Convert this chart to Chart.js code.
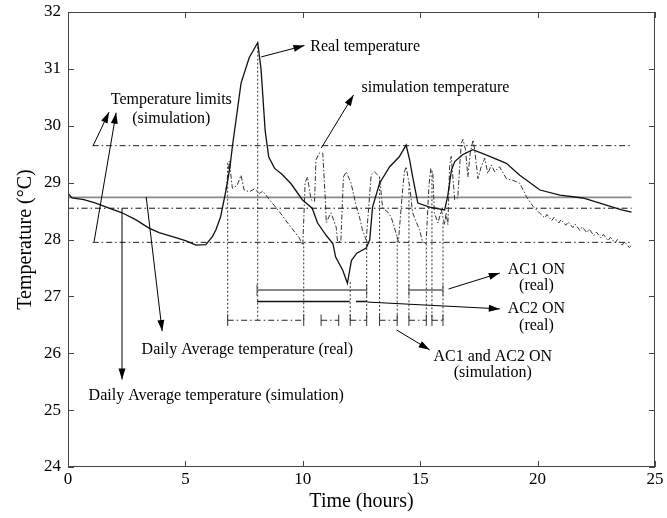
<!DOCTYPE html>
<html>
<head>
<meta charset="utf-8">
<script src="https://cdn.jsdelivr.net/npm/chart.js@4.4.1/dist/chart.umd.min.js"></script>
<style>
  body { margin: 0; background: #fff; }
  #wrap { width: 667px; height: 518px; }
</style>
</head>
<body>
<div id="wrap"><canvas id="chart"></canvas></div>
<script>
// measured temperature (hours, degrees C)
const realTime = [0, 0.17, 0.68, 1.18, 1.75, 2.3, 2.88, 3.45, 3.88, 4.45,
    5.0, 5.45, 5.87, 6.15, 6.3, 6.5, 6.73, 6.9, 7.0, 7.37,
    7.72, 8.08, 8.22, 8.4, 8.55, 8.8, 9.1, 9.5, 9.98, 10.4,
    10.63, 11.0, 11.28, 11.4, 11.7, 11.9, 12.07, 12.3, 12.7, 12.85,
    12.97, 13.27, 13.7, 14.1, 14.4, 14.55, 14.68, 14.9, 15.4, 16.04,
    16.17, 16.33, 16.47, 16.8, 17.24, 17.96, 18.67, 19.24, 20.1, 20.95,
    21.93, 22.65, 23.2, 23.58, 24];
const realTemp = [28.81, 28.73, 28.7, 28.64, 28.55, 28.47, 28.35, 28.2, 28.12, 28.05,
    27.98, 27.9, 27.91, 28.05, 28.17, 28.4, 28.87, 29.28, 29.63, 30.75,
    31.2, 31.46, 31.0, 29.9, 29.45, 29.25, 29.15, 28.98, 28.7, 28.55,
    28.29, 28.07, 27.93, 27.69, 27.46, 27.23, 27.63, 27.76, 27.85, 27.99,
    28.57, 28.99, 29.28, 29.45, 29.66, 29.4, 29.1, 28.64, 28.57, 28.52,
    28.76, 29.22, 29.37, 29.49, 29.58, 29.46, 29.34, 29.13, 28.87, 28.78,
    28.73, 28.64, 28.57, 28.52, 28.48];

// simulated temperature, branches off the real curve when the AC starts
const simTime = [6.73, 6.87, 7.0, 7.2, 7.37, 7.5, 7.72, 7.94, 8.15, 8.3,
    8.58, 9.0, 9.43, 9.85, 10.0, 10.1, 10.2, 10.35, 10.5, 10.56,
    10.7, 10.85, 10.96, 11.0, 11.2, 11.42, 11.48, 11.62, 11.73, 11.85,
    12.05, 12.28, 12.41, 12.54, 12.7, 12.91, 13.05, 13.27, 13.4, 13.6,
    13.76, 13.98, 14.07, 14.25, 14.33, 14.4, 14.55, 14.68, 14.83, 14.97,
    15.1, 15.25, 15.37, 15.45, 15.54, 15.6, 15.76, 15.9, 16.04, 16.1,
    16.18, 16.25, 16.32, 16.47, 16.6, 16.68, 16.75, 16.82, 16.93, 17.03,
    17.13, 17.25, 17.32, 17.46, 17.6, 17.75, 17.88, 18.03, 18.17, 18.38,
    18.67, 18.95, 19.24, 19.53, 19.81, 20.1, 20.3, 20.4, 20.6, 20.7,
    20.9, 21.0, 21.2, 21.3, 21.5, 21.6, 21.8, 21.9, 22.1, 22.2,
    22.4, 22.5, 22.7, 22.8, 23.0, 23.1, 23.3, 23.4, 23.6, 23.7,
    23.9, 24.0];
const simTemp = [28.87, 29.38, 28.9, 28.95, 29.13, 28.87, 28.84, 28.89, 28.81, 28.85,
    28.7, 28.49, 28.25, 28.03, 27.9, 29.0, 29.1, 28.7, 28.67, 29.4,
    29.52, 29.52, 28.7, 28.3, 28.47, 28.22, 27.96, 27.96, 29.1, 29.19,
    29.0, 28.58, 28.4, 28.17, 27.99, 29.13, 29.19, 29.1, 28.55, 28.49,
    28.4, 28.1, 27.96, 28.87, 29.19, 29.28, 28.93, 28.47, 28.31, 28.17,
    27.96, 27.93, 28.93, 29.25, 29.16, 28.47, 28.29, 28.52, 28.26, 28.47,
    28.26, 29.28, 29.46, 28.7, 28.73, 29.28, 29.69, 29.76, 29.58, 29.1,
    29.52, 29.75, 29.58, 29.07, 29.28, 29.43, 29.16, 29.31, 29.19, 29.28,
    29.07, 29.04, 28.99, 28.75, 28.58, 28.46, 28.38, 28.44, 28.33, 28.39,
    28.29, 28.35, 28.25, 28.31, 28.21, 28.27, 28.16, 28.22, 28.12, 28.18,
    28.07, 28.13, 28.03, 28.09, 27.98, 28.04, 27.94, 28.0, 27.9, 27.96,
    27.86, 27.9];

// horizontal reference levels
const avgReal = 28.74;
const avgSim = 28.55;
const limitHigh = 29.65;
const limitLow = 27.95;
const limitStart = 1.05;
const dayEnd = 24;

// AC switching times
const ac1On = [8.05, 14.52];
const ac1Off = [12.72, 15.97];
const ac1Level = 27.11;
const ac2On = [8.05, 12.27];
const ac2Off = [12.0, 12.76];
const ac2Level = 26.91;
const simOn = [6.8, 10.78, 12.02, 13.27, 14.52, 15.5];
const simOff = [10.04, 11.53, 12.72, 14.02, 15.26, 15.97];
const simLevel = 26.58;
const endTick = 0.1;

// dotted drop lines from the curves to the bars
const cutTimes = [6.8, 8.08, 10.04, 12.02, 12.72, 13.27, 14.02, 14.52, 15.26, 15.5, 15.97];
const cutTops = [29.35, 31.46, 27.95, 27.25, 27.99, 29.1, 28.05, 28.9, 27.93, 29.2, 28.3];

// annotations (text in data units)
const noteText = ['Real temperature', 'simulation temperature', 'Temperature limits', '(simulation)',
    'Daily Average temperature (real)', 'Daily Average temperature (simulation)',
    'AC1 ON', '(real)', 'AC2 ON', '(real)', 'AC1 and AC2 ON', '(simulation)'];
const noteX = [10.32, 12.5, 4.4, 4.4, 7.64, 6.31, 19.95, 19.95, 19.95, 19.95, 18.09, 18.09];
const noteY = [31.39, 30.67, 30.46, 30.13, 26.06, 25.25, 27.46, 27.18, 26.78, 26.49, 25.93, 25.65];
const noteAlign = ['left', 'left', 'center', 'center', 'center', 'center',
    'center', 'center', 'center', 'center', 'center', 'center'];

const arrowFrom = [[8.23, 31.21], [10.79, 29.61], [1.07, 29.65], [1.11, 27.96], [3.33, 28.75],
    [2.3, 28.55], [16.21, 27.13], [12.76, 26.9], [13.99, 26.41]];
const arrowTo = [[10.07, 31.41], [12.16, 30.54], [1.75, 30.24], [2.05, 30.23], [4.01, 26.39],
    [2.3, 25.54], [18.39, 27.41], [18.39, 26.78], [15.4, 26.06]];

const pts = (xs, ys) => xs.map((x, i) => ({ x: x, y: ys[i] }));

function segments(starts, ends, level) {
    const out = [];
    starts.forEach((s, i) => {
        out.push({ x: s, y: level }, { x: ends[i], y: level }, { x: ends[i], y: null });
    });
    return out;
}

function endTicks(starts, ends, level) {
    const out = [];
    starts.concat(ends).forEach(t => {
        out.push({ x: t, y: level - endTick }, { x: t, y: level + endTick }, { x: t, y: null });
    });
    return out;
}

const dropLines = [];
cutTimes.forEach((t, i) => {
    dropLines.push({ x: t, y: cutTops[i] }, { x: t, y: simLevel }, { x: t, y: null });
});

const serif = 'Liberation Serif, Times New Roman, serif';
const dashDot = [6, 3, 1.5, 3];

function line(data, color, width, dash) {
    return {
        data: data,
        borderColor: color,
        borderWidth: width,
        borderDash: dash || [],
        pointRadius: 0,
        fill: false,
        tension: 0,
        spanGaps: false
    };
}

const decorations = {
    id: 'decorations',
    afterDatasetsDraw(chart) {
        const ctx = chart.ctx;
        const xs = chart.scales.x, ys = chart.scales.y;
        const a = chart.chartArea;
        ctx.save();

        // frame with inward ticks on all sides
        ctx.strokeStyle = '#444';
        ctx.lineWidth = 1;
        ctx.strokeRect(a.left + 0.5, a.top + 0.5, a.right - a.left - 1, a.bottom - a.top - 1);
        ctx.beginPath();
        xs.ticks.forEach(t => {
            const px = Math.round(xs.getPixelForValue(t.value)) + 0.5;
            ctx.moveTo(px, a.bottom); ctx.lineTo(px, a.bottom - 6);
            ctx.moveTo(px, a.top); ctx.lineTo(px, a.top + 6);
        });
        ys.ticks.forEach(t => {
            const py = Math.round(ys.getPixelForValue(t.value)) + 0.5;
            ctx.moveTo(a.left, py); ctx.lineTo(a.left + 6, py);
            ctx.moveTo(a.right, py); ctx.lineTo(a.right - 6, py);
        });
        ctx.stroke();

        // arrows
        ctx.strokeStyle = '#000';
        ctx.fillStyle = '#000';
        arrowFrom.forEach((f, i) => {
            const x1 = xs.getPixelForValue(f[0]), y1 = ys.getPixelForValue(f[1]);
            const x2 = xs.getPixelForValue(arrowTo[i][0]), y2 = ys.getPixelForValue(arrowTo[i][1]);
            const ang = Math.atan2(y2 - y1, x2 - x1);
            ctx.beginPath();
            ctx.moveTo(x1, y1);
            ctx.lineTo(x2, y2);
            ctx.stroke();
            ctx.beginPath();
            ctx.moveTo(x2, y2);
            ctx.lineTo(x2 - 11 * Math.cos(ang) + 3.5 * Math.sin(ang), y2 - 11 * Math.sin(ang) - 3.5 * Math.cos(ang));
            ctx.lineTo(x2 - 11 * Math.cos(ang) - 3.5 * Math.sin(ang), y2 - 11 * Math.sin(ang) + 3.5 * Math.cos(ang));
            ctx.closePath();
            ctx.fill();
        });

        // texts
        ctx.font = '16px ' + serif;
        ctx.textBaseline = 'middle';
        noteText.forEach((txt, i) => {
            ctx.textAlign = noteAlign[i];
            ctx.fillText(txt, xs.getPixelForValue(noteX[i]), ys.getPixelForValue(noteY[i]));
        });
        ctx.restore();
    }
};

new Chart(document.getElementById('chart'), {
    type: 'line',
    data: {
        datasets: [
            line(pts(realTime, realTemp), '#111', 1.3),
            line(pts(simTime, simTemp), '#333', 1, [5, 2, 1.5, 2]),
            line([{ x: 0, y: avgReal }, { x: dayEnd, y: avgReal }], '#8a8a8a', 1.6),
            line([{ x: 0, y: avgSim }, { x: dayEnd, y: avgSim }], '#111', 1, dashDot),
            line([{ x: limitStart, y: limitHigh }, { x: dayEnd, y: limitHigh }], '#222', 1, dashDot),
            line([{ x: limitStart, y: limitLow }, { x: dayEnd, y: limitLow }], '#222', 1, dashDot),
            line(dropLines, '#333', 1, [2, 2]),
            line(segments(ac1On, ac1Off, ac1Level), '#888', 2),
            line(endTicks(ac1On, ac1Off, ac1Level), '#555', 1),
            line(segments(ac2On, ac2Off, ac2Level), '#111', 1.4),
            line(segments(simOn, simOff, simLevel), '#222', 1, dashDot),
            line(endTicks(simOn, simOff, simLevel), '#333', 1)
        ]
    },
    options: {
        responsive: true,
        maintainAspectRatio: false,
        animation: false,
        layout: { padding: { left: 0, right: 12, top: 12, bottom: 0 } },
        plugins: { legend: { display: false }, tooltip: { enabled: false } },
        scales: {
            x: {
                type: 'linear',
                min: 0, max: 25,
                afterFit: s => { s.height = 51; s.paddingLeft = 0; s.paddingRight = 0; },
                grid: { display: false, drawTicks: false },
                border: { display: false },
                ticks: { stepSize: 5, padding: 2, color: '#000', font: { family: serif, size: 17 } },
                title: { display: true, text: 'Time (hours)', color: '#000',
                    font: { family: serif, size: 20 }, padding: { top: 0, bottom: 4 } }
            },
            y: {
                min: 24, max: 32,
                afterFit: s => { s.width = 68; s.paddingTop = 0; s.paddingBottom = 0; },
                grid: { display: false, drawTicks: false },
                border: { display: false },
                ticks: { stepSize: 1, padding: 7, color: '#000', font: { family: serif, size: 17 } },
                title: { display: true, text: 'Temperature (°C)', color: '#000',
                    font: { family: serif, size: 20 }, padding: { top: 14, bottom: 0 } }
            }
        }
    },
    plugins: [decorations]
});
</script>
</body>
</html>
